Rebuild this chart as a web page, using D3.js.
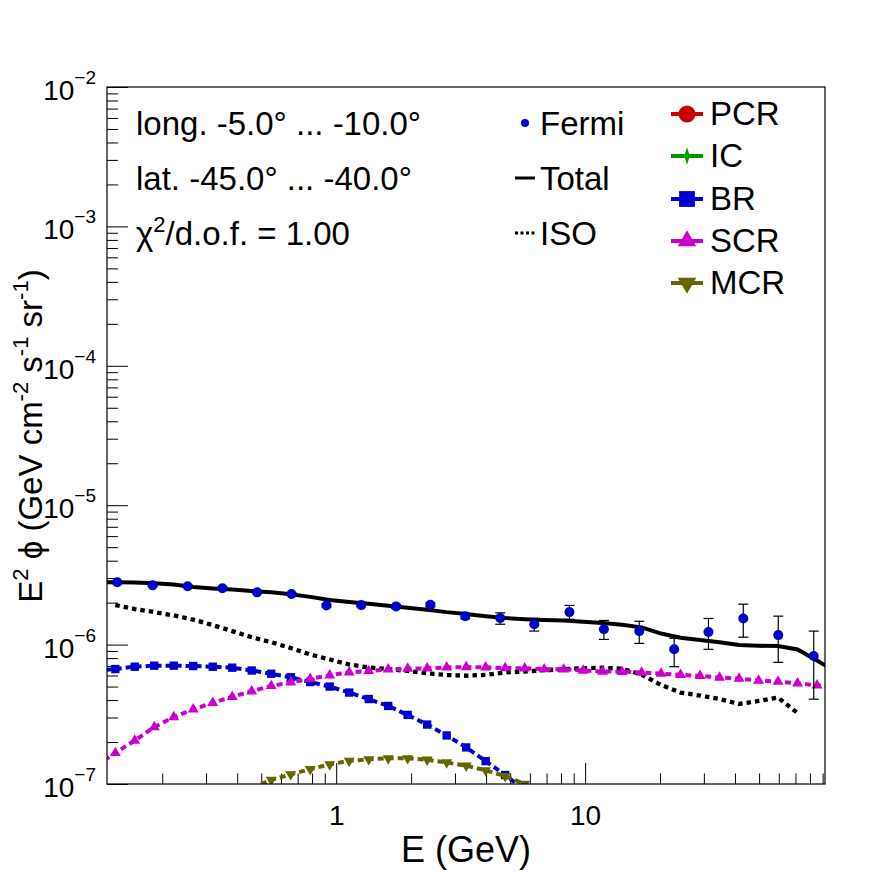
<!DOCTYPE html>
<html>
<head>
<meta charset="utf-8">
<script src="https://cdn.jsdelivr.net/npm/d3@7"></script>
<style>
  html, body { margin: 0; padding: 0; background: #fff; }
  svg { display: block; font-family: "Liberation Sans", Arial, Helvetica, sans-serif; }
</style>
</head>
<body>
<svg id="chart" width="896" height="872"></svg>
<script>
// ---- data (flux values in units of 1e-6 GeV cm^-2 s^-1 sr^-1) ----
const fermiE = [0.132, 0.183, 0.253, 0.349, 0.481, 0.661, 0.914, 1.26, 1.74, 2.39, 3.30,
  4.56, 6.25, 8.65, 11.9, 16.5, 22.8, 31.3, 43.2, 59.7, 82.9];
const fermiVal = [2.80, 2.66, 2.62, 2.54, 2.37, 2.31, 1.91, 1.92, 1.88, 1.93, 1.60,
  1.55, 1.40, 1.71, 1.29, 1.25, 0.925, 1.23, 1.54, 1.17, 0.828];
const fermiHi = [2.86, 2.71, 2.67, 2.59, 2.42, 2.36, 1.96, 1.97, 1.94, 1.99, 1.67,
  1.69, 1.54, 1.91, 1.49, 1.47, 1.11, 1.54, 1.95, 1.60, 1.25];
const fermiLo = [2.74, 2.61, 2.57, 2.49, 2.32, 2.26, 1.86, 1.87, 1.82, 1.87, 1.53,
  1.40, 1.25, 1.52, 1.09, 1.02, 0.694, 0.925, 1.13, 0.746, 0.406];

// model energy grid (GeV)
const modelE = [0.1082, 0.1296, 0.1551, 0.1858, 0.2225, 0.2665, 0.3192, 0.3822, 0.4577,
  0.5482, 0.6566, 0.7863, 0.9417, 1.128, 1.351, 1.618, 1.937, 2.320, 2.779, 3.328, 3.985,
  4.773, 5.715, 6.845, 8.198, 9.818, 11.76, 14.08, 16.86, 20.20, 24.18, 28.96, 34.69,
  41.54, 49.75, 59.58, 71.36, 85.45, 102.3];

const totalVal = [2.80, 2.80, 2.79, 2.75, 2.70, 2.59, 2.53, 2.48, 2.42, 2.37, 2.30, 2.20,
  2.09, 2.02, 1.96, 1.90, 1.84, 1.78, 1.71, 1.66, 1.60, 1.55, 1.52, 1.50, 1.49, 1.46, 1.43,
  1.39, 1.33, 1.20, 1.12, 1.08, 1.04, 0.993, 0.980, 0.977, 0.922, 0.769, 0.636];
const isoVal = [null, 1.92, 1.80, 1.71, 1.62, 1.51, 1.38, 1.25, 1.13, 1.04, 0.945, 0.849,
  0.782, 0.720, 0.685, 0.668, 0.647, 0.622, 0.605, 0.598, 0.607, 0.631, 0.641, 0.655, 0.666,
  0.676, 0.682, 0.672, 0.610, 0.513, 0.453, 0.431, 0.407, 0.375, 0.394, 0.417, 0.323, null, null];
const brVal = [0.647, 0.668, 0.694, 0.706, 0.706, 0.702, 0.694, 0.683, 0.652, 0.618, 0.583,
  0.539, 0.500, 0.453, 0.407, 0.363, 0.313, 0.267, 0.223, 0.183, 0.146, 0.116, 0.0906,
  null, null, null, null, null, null, null, null, null, null, null, null, null, null, null, null];
const scrVal = [0.135, 0.167, 0.205, 0.256, 0.302, 0.343, 0.382, 0.422, 0.463, 0.505, 0.536,
  0.568, 0.603, 0.632, 0.647, 0.664, 0.672, 0.676, 0.686, 0.689, 0.687, 0.679, 0.676, 0.666,
  0.664, 0.652, 0.641, 0.639, 0.630, 0.619, 0.607, 0.596, 0.581, 0.570, 0.553, 0.543, 0.527,
  0.510, 0.492];
const mcrVal = [null, null, null, null, null, null, null, null, 0.0936, 0.1068, 0.1174,
  0.1277, 0.1382, 0.1467, 0.1504, 0.1527, 0.1529, 0.1492, 0.1426, 0.1353, 0.1254, 0.1138,
  0.100, 0.0876, null, null, null, null, null, null, null, null, null, null, null, null,
  null, null, null];

const infoLines = ["long. -5.0° ... -10.0°", "lat. -45.0° ... -40.0°"];
const chiText = "1.00";
const legendLeft = ["Fermi", "Total", "ISO"];
const legendRight = ["PCR", "IC", "BR", "SCR", "MCR"];
const UNIT = 1e-6;

// ---- layout ----
const svg = d3.select("#chart");
const L = 107, R = 825, T = 87, B = 784;
const FONT_BIG = 33;

svg.append("rect").attr("width", 896).attr("height", 872).attr("fill", "#fff");

const x = d3.scaleLog().domain([0.12, 92]).range([L, R]);
const y = d3.scaleLog().domain([1e-7, 1e-2]).range([B, T]);

const isMajor = (v) => Math.abs(Math.log10(v) - Math.round(Math.log10(v))) < 1e-9;

svg.append("clipPath").attr("id", "plot-clip")
  .append("rect").attr("x", L).attr("y", T).attr("width", R - L).attr("height", B - T);

// ---- axes ----
const xt = x.ticks();
const yt = y.ticks();

function noDomain(g) { g.select(".domain").remove(); }

svg.append("g").attr("transform", `translate(0,${B})`)
  .call(d3.axisBottom(x).tickValues(xt.filter((d) => !isMajor(d))).tickSize(-10.5).tickFormat(""))
  .call(noDomain);
const xMajor = svg.append("g").attr("transform", `translate(0,${B})`)
  .call(d3.axisBottom(x).tickValues(xt.filter(isMajor)).tickSize(-21).tickPadding(21)
    .tickFormat((d) => String(d)))
  .call(noDomain);
xMajor.selectAll("text").attr("font-size", 28).attr("font-family", null).attr("fill", "#000");

svg.append("g").attr("transform", `translate(${L},0)`)
  .call(d3.axisLeft(y).tickValues(yt.filter((d) => !isMajor(d))).tickSize(-11).tickFormat(""))
  .call(noDomain);
svg.append("g").attr("transform", `translate(${L},0)`)
  .call(d3.axisLeft(y).tickValues(yt.filter(isMajor)).tickSize(-21).tickFormat(""))
  .call(noDomain);

const yLab = svg.append("g").selectAll("text").data(yt.filter(isMajor)).join("text")
  .attr("x", 96).attr("y", (d) => y(d) + 13).attr("text-anchor", "end").attr("font-size", 28);
yLab.append("tspan").text("10");
yLab.append("tspan").attr("dy", -16).attr("font-size", 19)
  .text((d) => "\u2212" + Math.abs(Math.round(Math.log10(d))));

// axis titles
svg.append("text").attr("x", (L + R) / 2).attr("y", 862).attr("text-anchor", "middle")
  .attr("font-size", 36).text("E (GeV)");

const yTitle = svg.append("text").attr("transform", "translate(42,436) rotate(-90)")
  .attr("text-anchor", "middle").attr("font-size", 33);
[["E", 0], ["2", 1], [" \u03d5 (GeV cm", 0], ["-2", 1], [" s", 0], ["-1", 1], [" sr", 0], ["-1", 1], [")", 0]]
  .forEach(([t, sup], i, arr) => {
    const prevSup = i > 0 ? arr[i - 1][1] : 0;
    const dy = sup && !prevSup ? -14 : !sup && prevSup ? 14 : 0;
    yTitle.append("tspan").attr("dy", dy).attr("font-size", sup ? 22 : 33).text(t);
  });

// ---- curves ----
const plot = svg.append("g").attr("clip-path", "url(#plot-clip)");

function series(vals) { return modelE.map((e, i) => [e, vals[i]]); }
const line = d3.line().defined((d) => d[1] != null).x((d) => x(d[0])).y((d) => y(d[1] * UNIT));

const comps = [
  { vals: isoVal, color: "#000", width: 4.3, dash: "4.5 4", symbol: null },
  { vals: brVal, color: "#0000cc", width: 4, dash: "6 4", symbol: d3.symbolSquare, size: 70, rot: 0 },
  { vals: scrVal, color: "#cc00cc", width: 4, dash: "6 4", symbol: d3.symbolTriangle, size: 52, rot: 0 },
  { vals: mcrVal, color: "#666600", width: 4, dash: "6 4", symbol: d3.symbolTriangle, size: 52, rot: 180 },
];

for (const c of comps) {
  const data = series(c.vals);
  plot.append("path").attr("d", line(data)).attr("fill", "none").attr("stroke", c.color)
    .attr("stroke-width", c.width).attr("stroke-dasharray", c.dash);
  if (c.symbol) {
    plot.append("g").selectAll("path").data(data.filter((d) => d[1] != null)).join("path")
      .attr("d", d3.symbol().type(c.symbol).size(c.size))
      .attr("transform", (d) => `translate(${x(d[0])},${y(d[1] * UNIT)}) rotate(${c.rot})`)
      .attr("fill", c.color);
  }
}

plot.append("path").attr("d", line(series(totalVal))).attr("fill", "none")
  .attr("stroke", "#000").attr("stroke-width", 4);

// Fermi points
const fermi = fermiE.map((e, i) => ({ e, v: fermiVal[i], hi: fermiHi[i], lo: fermiLo[i] }));
const pts = plot.append("g").selectAll("g").data(fermi).join("g");
pts.append("line").attr("x1", (d) => x(d.e)).attr("x2", (d) => x(d.e))
  .attr("y1", (d) => y(d.hi * UNIT)).attr("y2", (d) => y(d.lo * UNIT))
  .attr("stroke", "#000").attr("stroke-width", 1.2);
for (const key of ["hi", "lo"]) {
  pts.append("line").attr("x1", (d) => x(d.e) - 5).attr("x2", (d) => x(d.e) + 5)
    .attr("y1", (d) => y(d[key] * UNIT)).attr("y2", (d) => y(d[key] * UNIT))
    .attr("stroke", "#000").attr("stroke-width", 1.2);
}
pts.append("circle").attr("cx", (d) => x(d.e)).attr("cy", (d) => y(d.v * UNIT))
  .attr("r", 5).attr("fill", "#0000cc");

// frame
svg.append("rect").attr("x", L).attr("y", T).attr("width", R - L).attr("height", B - T)
  .attr("fill", "none").attr("stroke", "#000").attr("stroke-width", 1.2);

// ---- info text ----
infoLines.forEach((t, i) => {
  svg.append("text").attr("x", 136).attr("y", 135 + 55 * i).attr("font-size", FONT_BIG).text(t);
});
const chi = svg.append("text").attr("x", 136).attr("y", 245).attr("font-size", FONT_BIG);
chi.append("tspan").text("\u03c7");
chi.append("tspan").attr("dy", -13).attr("font-size", 22).text("2");
chi.append("tspan").attr("dy", 13).text("/d.o.f. = " + chiText);

// ---- legend ----
const leftRows = [123, 178, 233];
svg.append("circle").attr("cx", 525).attr("cy", leftRows[0]).attr("r", 4).attr("fill", "#0000cc");
svg.append("line").attr("x1", 515).attr("x2", 535).attr("y1", leftRows[1]).attr("y2", leftRows[1])
  .attr("stroke", "#000").attr("stroke-width", 3);
svg.append("line").attr("x1", 515).attr("x2", 537).attr("y1", leftRows[2]).attr("y2", leftRows[2])
  .attr("stroke", "#000").attr("stroke-width", 3).attr("stroke-dasharray", "3 2.5");
legendLeft.forEach((t, i) => {
  svg.append("text").attr("x", 540).attr("y", leftRows[i] + 12).attr("font-size", FONT_BIG).text(t);
});

const rightRows = [114, 156, 199, 241, 283];
const rightStyle = [
  { color: "#cc0000", type: d3.symbolCircle, size: 230, rot: 0, sx: 1 },
  { color: "#009900", type: d3.symbolDiamond, size: 90, rot: 0, sx: 0.55 },
  { color: "#0000cc", type: d3.symbolSquare, size: 250, rot: 0, sx: 1 },
  { color: "#cc00cc", type: d3.symbolTriangle, size: 150, rot: 0, sx: 1 },
  { color: "#666600", type: d3.symbolTriangle, size: 150, rot: 180, sx: 1 },
];
legendRight.forEach((t, i) => {
  const cy = rightRows[i], s = rightStyle[i];
  svg.append("line").attr("x1", 671).attr("x2", 703).attr("y1", cy).attr("y2", cy)
    .attr("stroke", s.color).attr("stroke-width", 4);
  svg.append("path").attr("d", d3.symbol().type(s.type).size(s.size))
    .attr("transform", `translate(687,${cy}) rotate(${s.rot}) scale(${s.sx},1)`)
    .attr("fill", s.color);
  svg.append("text").attr("x", 710).attr("y", cy + 10.5).attr("font-size", FONT_BIG).text(t);
});
</script>
</body>
</html>
